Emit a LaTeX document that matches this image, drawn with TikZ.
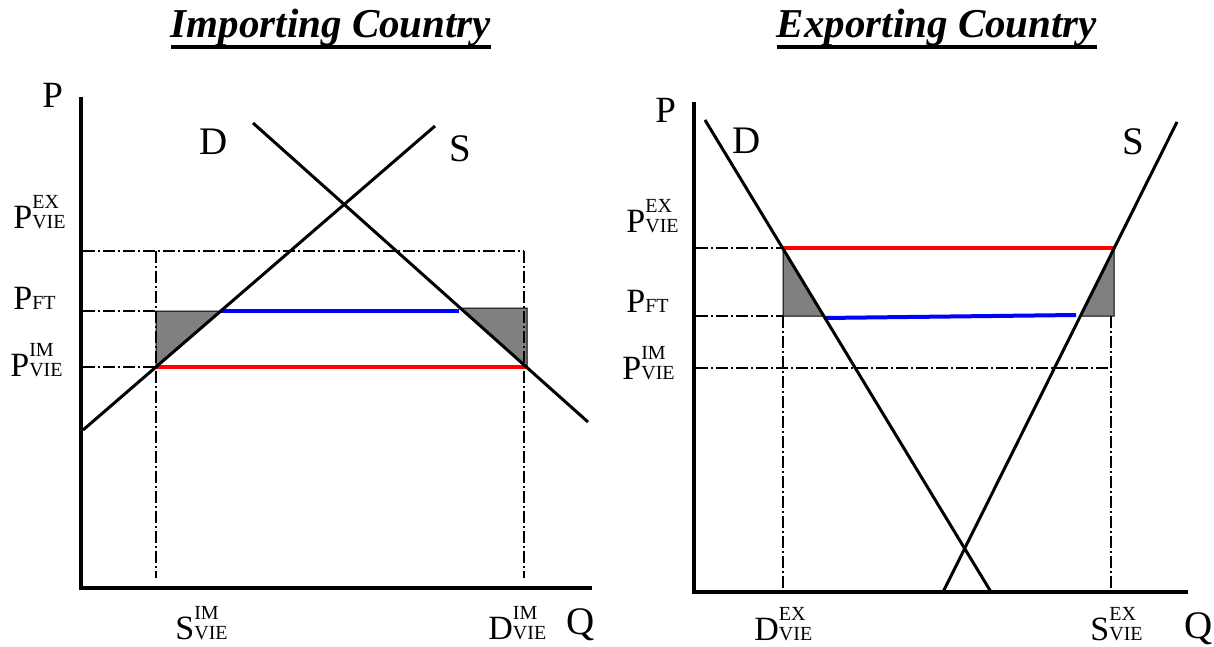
\documentclass[tikz,border=0pt]{standalone}
\usepackage{fontspec}
\setmainfont{Liberation Serif}
\usetikzlibrary{backgrounds}
\newsavebox\ttbox
\newcommand\ulin[1]{\sbox\ttbox{#1}\rlap{\rule[-5.5pt]{\wd\ttbox}{2pt}}\usebox\ttbox}
\newcommand\pv[3]{#1{\fontsize{10}{10}\selectfont\shortstack[l]{#2\\#3}}}
\newcommand\pft{P{\fontsize{10}{10}\selectfont FT}}
\tikzset{
  ax/.style = {draw=black, line width=2.4pt},
  cv/.style = {draw=black, line width=1.5pt},
  dd/.style = {draw=black, line width=0.6pt,
    dash pattern=on 6pt off 1.6pt on 0.8pt off 1.6pt},
  gr/.style = {draw=black, fill=black!50, line width=0.5pt},
  pr/.style = {line width=2pt},
  lb/.style = {font=\fontsize{17}{17}\selectfont, inner sep=0pt, anchor=base west},
  bl/.style = {lb, font=\fontsize{19.5}{20}\selectfont},
  tt/.style = {font=\fontsize{20.5}{24}\selectfont\bfseries\itshape,
    inner sep=0pt, anchor=base},
  every picture/.style = {background rectangle/.style={fill=white},
    inner frame sep=0pt, show background rectangle}
}

\begin{document}
\begin{tikzpicture}[x=0.5pt, y=-0.5pt]
  \useasboundingbox (0,0) rectangle (1214,647);
  % importing country
  \node [tt] (tim) at (331,38) {\ulin{Importing Country}};
  \coordinate (lt) at (81,97);
  \coordinate (lo) at (81,588);
  \coordinate (lq) at (592,588);
  \coordinate (ld1) at (253,123);
  \coordinate (ld2) at (588,422);
  \coordinate (ls1) at (83,430);
  \coordinate (ls2) at (435,126);
  \fill [gr] (156,311) -- (221,311) -- (156,367) -- cycle;
  \fill [gr] (460,308) -- (527,308) -- (527,367) -- cycle;
  \draw [dd] (83,251) -- (524,251);
  \draw [dd] (156,251) -- (156,578);
  \draw [dd] (524,251) -- (524,578);
  \draw [dd] (83,311) -- (156,311);
  \draw [dd] (83,367) -- (156,367);
  \draw [pr, blue] (221,311) -- (459,311);
  \draw [pr, red] (156,367) -- (528,367);
  \draw [cv] (ld1) -- (ld2);
  \draw [cv] (ls1) -- (ls2);
  \draw [ax] (lt) -- (lo) -- (lq);
  \node [lb, font=\fontsize{18.5}{19}\selectfont] (lp) at (42,107) {P};
  \node [bl] (ldl) at (199,155) {D};
  \node [bl] (lsl) at (449,162) {S};
  \node [lb] (lpex) at (13,228) {\pv{P}{EX}{VIE}};
  \node [lb] (lpft) at (13,309) {\pft};
  \node [lb] (lpim) at (10,376) {\pv{P}{IM}{VIE}};
  \node [lb] (lsim) at (175,639) {\pv{S}{IM}{VIE}};
  \node [lb] (ldim) at (488,639) {\pv{D}{IM}{VIE}};
  \node [bl] (lql) at (566,634) {Q};
  % exporting country
  \node [tt] (tex) at (937,38) {\ulin{Exporting Country}};
  \coordinate (rt) at (694,102);
  \coordinate (ro) at (694,592);
  \coordinate (rq) at (1188,592);
  \coordinate (rd1) at (705,120);
  \coordinate (rd2) at (991,592);
  \coordinate (rs1) at (943,592);
  \coordinate (rs2) at (1177,122);
  \fill [gr] (783,248) -- (824,316) -- (783,316) -- cycle;
  \fill [gr] (1114,248) -- (1114,316) -- (1080,316) -- cycle;
  \draw [dd] (696,248) -- (783,248);
  \draw [dd] (696,316) -- (783,316);
  \draw [dd] (696,368) -- (1111,368);
  \draw [dd] (783,316) -- (783,590);
  \draw [dd] (1111,316) -- (1111,590);
  \draw [pr, red] (783,248) -- (1114,248);
  \draw [pr, blue] (824,318) -- (1076,315);
  \draw [cv] (rd1) -- (rd2);
  \draw [cv] (rs1) -- (rs2);
  \draw [ax] (rt) -- (ro) -- (rq);
  \node [lb, font=\fontsize{18.5}{19}\selectfont] (rp) at (655,122) {P};
  \node [bl] (rdl) at (732,153) {D};
  \node [bl] (rsl) at (1122,155) {S};
  \node [lb] (rpex) at (626,232) {\pv{P}{EX}{VIE}};
  \node [lb] (rpft) at (626,312) {\pft};
  \node [lb] (rpim) at (622,379) {\pv{P}{IM}{VIE}};
  \node [lb] (rdex) at (754,640) {\pv{D}{EX}{VIE}};
  \node [lb] (rsex) at (1090,640) {\pv{S}{EX}{VIE}};
  \node [bl] (rql) at (1184,638) {Q};
\end{tikzpicture}
\end{document}
